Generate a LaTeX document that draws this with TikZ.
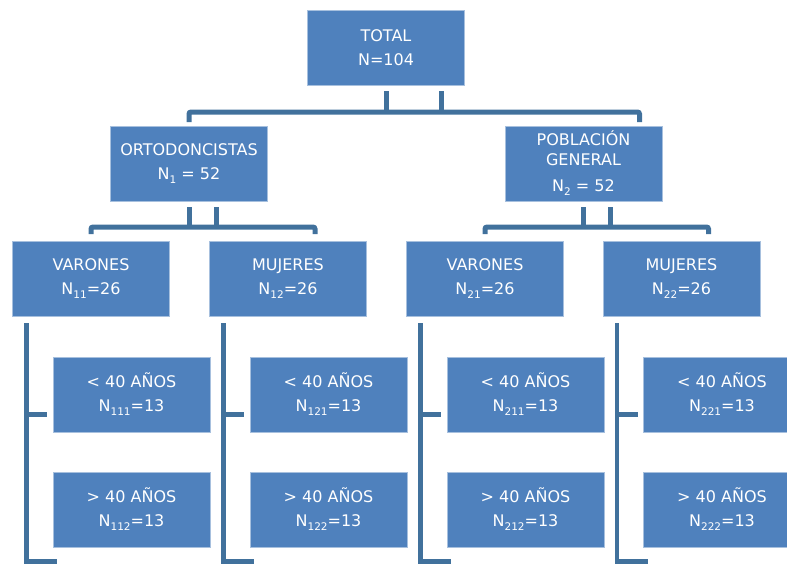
\documentclass[tikz,border=0pt]{standalone}
\usepackage{fontspec}
\setmainfont{DejaVu Sans}
\usepackage{tikz}
\usetikzlibrary{positioning}

\definecolor{boxblue}{HTML}{4F81BD}
\definecolor{linkblue}{HTML}{41719C}
\newcommand{\nsub}[1]{\raisebox{-0.45ex}{\fontsize{10.5}{10.5}\selectfont #1}}

\begin{document}
\begin{tikzpicture}[
    x=1pt, y=-1pt,
    every node/.style={draw=boxblue!50!white, line width=0.8pt, fill=boxblue, text=white,
        minimum width=157pt, minimum height=75pt, inner sep=0pt, outer sep=0pt, align=center,
        font=\fontsize{16}{24}\selectfont},
    link/.style={draw=linkblue, line width=5pt, rounded corners=2pt}
]
    \clip (0,0) rectangle (787,563);

    % Root node
    \node (total) at (386,47.5) {TOTAL\\N=104};

    % Level 1: ortodoncistas / poblacion general
    \node[below=41pt of total, xshift=-197pt] (orto) {ORTODONCISTAS\\N\nsub{1} = 52};
    \node[below=41pt of total, xshift=197.5pt] (pob) {POBLACIÓN\\[-4pt]GENERAL\\[2pt]N\nsub{2} = 52};

    \draw[link] ([yshift=-6pt]total.south) -- ([yshift=-27pt]total.south);
    \draw[link] ([xshift=55pt,yshift=-6pt]total.south) -- ([xshift=55pt,yshift=-27pt]total.south);
    \draw[link] ([yshift=4pt]orto.north) |- ([yshift=-27pt]total.south) -| ([xshift=56pt,yshift=4pt]pob.north);

    % Level 2: from ortodoncistas
    \node[below=40pt of orto, xshift=-98pt] (v1) {VARONES\\N\nsub{11}=26};
    \node[below=40pt of orto, xshift=99pt] (m1) {MUJERES\\N\nsub{12}=26};

    \draw[link] ([yshift=-6pt]orto.south) -- ([yshift=-26pt]orto.south);
    \draw[link] ([xshift=27pt,yshift=-6pt]orto.south) -- ([xshift=27pt,yshift=-26pt]orto.south);
    \draw[link] ([yshift=7pt]v1.north) |- ([yshift=-26pt]orto.south) -| ([xshift=27pt,yshift=7pt]m1.north);

    % Level 2: from poblacion general
    \node[below=40pt of pob, xshift=-98.5pt] (v2) {VARONES\\N\nsub{21}=26};
    \node[below=40pt of pob, xshift=98pt] (m2) {MUJERES\\N\nsub{22}=26};

    \draw[link] ([yshift=-6pt]pob.south) -- ([yshift=-26pt]pob.south);
    \draw[link] ([xshift=27pt,yshift=-6pt]pob.south) -- ([xshift=27pt,yshift=-26pt]pob.south);
    \draw[link] ([yshift=7pt]v2.north) |- ([yshift=-26pt]pob.south) -| ([xshift=27pt,yshift=7pt]m2.north);

    % Level 3: age groups
    \node[below=41pt of v1, xshift=40.5pt] (v1a) {< 40 AÑOS\\N\nsub{111}=13};
    \node[below=40pt of v1a] (v1b) {> 40 AÑOS\\N\nsub{112}=13};
    \node[below=41pt of m1, xshift=40.5pt] (m1a) {< 40 AÑOS\\N\nsub{121}=13};
    \node[below=40pt of m1a] (m1b) {> 40 AÑOS\\N\nsub{122}=13};
    \node[below=41pt of v2, xshift=40.5pt] (v2a) {< 40 AÑOS\\N\nsub{211}=13};
    \node[below=40pt of v2a] (v2b) {> 40 AÑOS\\N\nsub{212}=13};
    \node[below=41pt of m2, xshift=40.5pt] (m2a) {< 40 AÑOS\\N\nsub{221}=13};
    \node[below=40pt of m2a] (m2b) {> 40 AÑOS\\N\nsub{222}=13};

    \foreach \g in {v1, m1, v2, m2} {
        \draw[link, line width=4.5pt, rounded corners=0pt] ([xshift=14pt,yshift=-7pt]\g.south west) |- ([xshift=4pt,yshift=-14.5pt]\g b.south west);
        \draw[link, line width=4.5pt] ([xshift=-27pt,yshift=-20pt]\g a.west) -- ([xshift=-6pt,yshift=-20pt]\g a.west);
    }

\end{tikzpicture}
\end{document}
